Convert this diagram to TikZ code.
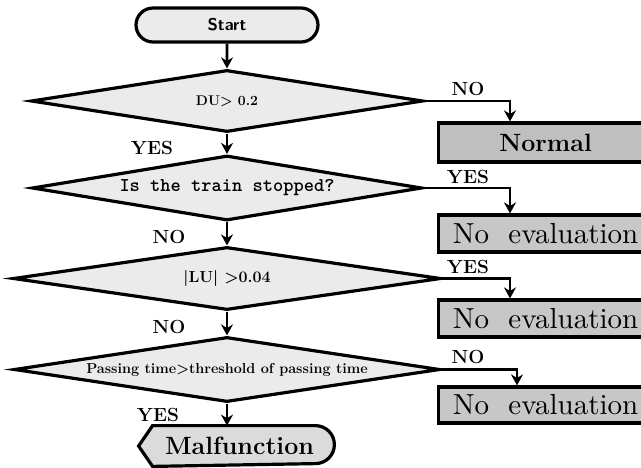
\documentclass[tikz,border=0pt]{standalone}
\usepackage{fontspec}
\usepackage{tikz}
\usetikzlibrary{shapes.geometric,shapes.misc,arrows.meta}
\newfontfamily\evalfont{lmroman10-regular}[Extension=.otf]
\begin{document}
\begin{tikzpicture}[x=1pt,y=-1pt,line width=2.8pt,>={Stealth[length=11pt,width=12pt]}]
      \tikzstyle{decision}=[diamond,draw,fill=black!8,inner sep=0pt,line width=3.2pt,aspect=6.5,font=\bfseries\fontsize{14}{14}\selectfont]
      \tikzstyle{result}=[rectangle,draw,fill=black!22,anchor=west,minimum width=214pt,inner sep=0pt,line width=3.2pt,font=\evalfont\fontsize{29}{29}\selectfont]
      \tikzstyle{answer}=[font=\bfseries\fontsize{19}{19}\selectfont]
      \clip (0,0) rectangle (641,467);
      \node[rounded rectangle,draw,fill=black!8,line width=3.2pt,minimum width=182pt,minimum height=34pt,inner sep=0pt,font=\sffamily\bfseries\fontsize{17}{17}\selectfont] (start) at (227,25) {Start};
      \node[decision,minimum width=392pt,minimum height=62pt] (du) at (227,101) {DU> 0.2};
      \node[decision,minimum width=390pt,minimum height=65pt,font=\ttfamily\bfseries\fontsize{19.5}{19.5}\selectfont] (stopped) at (227,188) {Is the train stopped?};
      \node[decision,minimum width=428pt,minimum height=63pt,font=\bfseries\fontsize{16}{16}\selectfont] (lu) at (227,278.5) {|LU| >0.04};
      \node[decision,minimum width=426pt,minimum height=65pt,font=\bfseries\fontsize{14.4}{14.4}\selectfont] (passing) at (227,369.5) {Passing time>threshold of passing time};
      %% right column
      \node[result,minimum height=39pt,fill=black!25,font=\bfseries\fontsize{25}{25}\selectfont] (normal) at (437,142.5) {Normal};
      \node[result,minimum height=37pt] (noeval1) at (437,233.5) {No\ \ evaluation};
      \node[result,minimum height=37pt] (noeval2) at (437,318.5) {No\ \ evaluation};
      \node[result,minimum height=36pt] (noeval3) at (437,405) {No\ \ evaluation};
      %% end
      \node[minimum width=193pt,minimum height=38pt,inner sep=0pt] (malframe) at (236.5,446) {};
      \filldraw[fill=black!14,line width=3.2pt] ([xshift=14pt]malframe.north west) -- ([xshift=-19pt]malframe.north east)
          arc[start angle=90,end angle=-90,radius=19pt] -- ([xshift=14pt]malframe.south west) -- (malframe.west) -- cycle;
      \node[font=\bfseries\fontsize{25}{25}\selectfont] (malfunction) at ([xshift=3pt]malframe.center) {Malfunction};
      %% main flow
      \draw[->] (start) -- (du);
      \draw[->] (du) -- (stopped);
      \draw[->] (stopped) -- (lu);
      \draw[->] (lu) -- (passing);
      \draw[->] (passing.south) -- (passing.south |- malframe.north);
      \draw[->] (du.east) -| ([xshift=73pt]normal.north west);
      \draw[->] (stopped.east) -| ([xshift=73pt]noeval1.north west);
      \draw[->] (lu.east) -| ([xshift=73pt]noeval2.north west);
      \draw[->] (passing.east) -| ([xshift=80pt]noeval3.north west);
      %% labels
      \node[answer] (yes1) at (152,148) {YES};
      \node[answer] (no2) at (169,237) {NO};
      \node[answer] (no3) at (169,327) {NO};
      \node[answer] (yes4) at (158,415) {YES};
      \node[answer] (no1) at (468,89) {NO};
      \node[answer] (yes2) at (468,177) {YES};
      \node[answer] (yes3) at (468,267) {YES};
      \node[answer] (no4) at (468,357) {NO};
\end{tikzpicture}
\end{document}
